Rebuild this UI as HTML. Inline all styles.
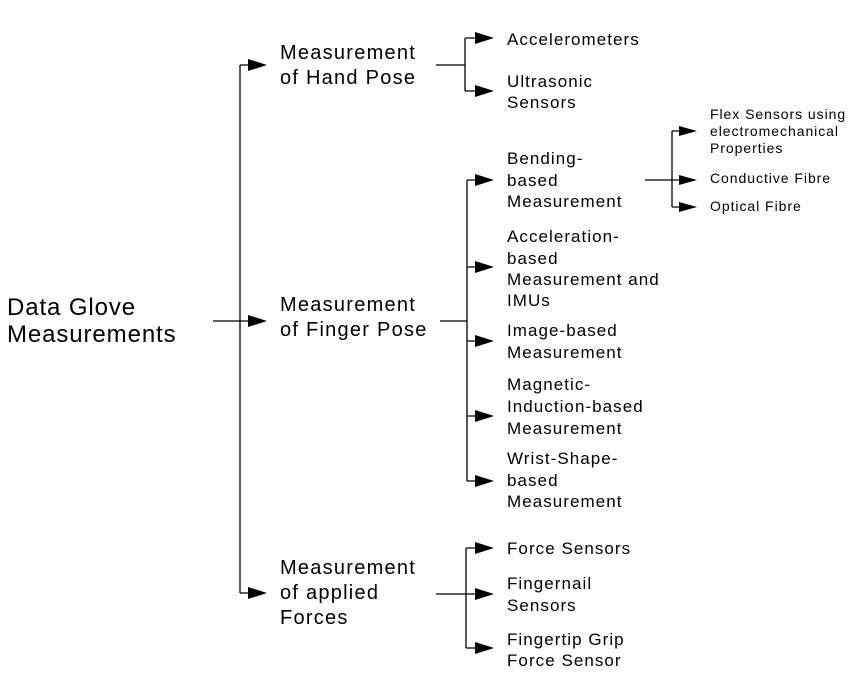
<!DOCTYPE html>
<html><head><meta charset="utf-8"><style>
html,body{margin:0;padding:0;background:#fff;width:853px;height:693px;overflow:hidden}
svg{display:block}
text{font-family:"Liberation Sans",sans-serif;fill:#000}
.l{font-size:24px;letter-spacing:0.9px}.m{font-size:20px;letter-spacing:1.25px}.s{font-size:17px;letter-spacing:1.05px}.f{font-size:14px;letter-spacing:0.95px}
</style></head><body>
<svg width="853" height="693" viewBox="0 0 853 693" xmlns="http://www.w3.org/2000/svg">
<g stroke="#000" stroke-width="1.3" fill="none">
<path d="M213 321H240M240 65V593M240 65H250M240 321H250M240 593H250"/>
<path d="M436 65H465M465 38V91M465 38H476M465 91H476"/>
<path d="M440 321H467M467 180V481M467 180H476M467 267H476M467 341H476M467 416H476M467 481H476"/>
<path d="M436 594H466M466 548V648M466 548H476M466 594H476M466 648H476"/>
<path d="M645 180H672M672 131V207M672 131H680M672 180H680M672 207H680"/>
</g>
<g fill="#000">
<path d="M248 59L267 65L248 71Z"/><path d="M248 315L267 321L248 327Z"/><path d="M248 587L267 593L248 599Z"/>
<path d="M475 32L494 38L475 44Z"/><path d="M475 85L494 91L475 97Z"/>
<path d="M475 174L494 180L475 186Z"/><path d="M475 261L494 267L475 273Z"/><path d="M475 335L494 341L475 347Z"/><path d="M475 410L494 416L475 422Z"/><path d="M475 475L494 481L475 487Z"/>
<path d="M475 542L494 548L475 554Z"/><path d="M475 588L494 594L475 600Z"/><path d="M475 642L494 648L475 654Z"/>
<path d="M679 126L697 131L679 136Z"/><path d="M679 175L697 180L679 185Z"/><path d="M679 202L697 207L679 212Z"/>
</g>
<text class="l" x="7" y="315">Data Glove</text><text class="l" x="7" y="342">Measurements</text>
<text class="m" x="280" y="59">Measurement</text><text class="m" x="280" y="84">of Hand Pose</text>
<text class="m" x="280" y="311">Measurement</text><text class="m" x="280" y="336">of Finger Pose</text>
<text class="m" x="280" y="574">Measurement</text><text class="m" x="280" y="599">of applied</text><text class="m" x="280" y="624">Forces</text>
<text class="s" x="507" y="45">Accelerometers</text>
<text class="s" x="507" y="87">Ultrasonic</text><text class="s" x="507" y="108">Sensors</text>
<text class="s" x="507" y="164">Bending-</text><text class="s" x="507" y="186">based</text><text class="s" x="507" y="207">Measurement</text>
<text class="s" x="507" y="242">Acceleration-</text><text class="s" x="507" y="264">based</text><text class="s" x="507" y="285">Measurement and</text><text class="s" x="507" y="306">IMUs</text>
<text class="s" x="507" y="336">Image-based</text><text class="s" x="507" y="358">Measurement</text>
<text class="s" x="507" y="390">Magnetic-</text><text class="s" x="507" y="412">Induction-based</text><text class="s" x="507" y="434">Measurement</text>
<text class="s" x="507" y="464">Wrist-Shape-</text><text class="s" x="507" y="486">based</text><text class="s" x="507" y="507">Measurement</text>
<text class="s" x="507" y="554">Force Sensors</text>
<text class="s" x="507" y="589">Fingernail</text><text class="s" x="507" y="611">Sensors</text>
<text class="s" x="507" y="645">Fingertip Grip</text><text class="s" x="507" y="666">Force Sensor</text>
<text class="f" x="710" y="119">Flex Sensors using</text><text class="f" x="710" y="136">electromechanical</text><text class="f" x="710" y="153">Properties</text>
<text class="f" x="710" y="183">Conductive Fibre</text>
<text class="f" x="710" y="211">Optical Fibre</text>
</svg>
</body></html>
